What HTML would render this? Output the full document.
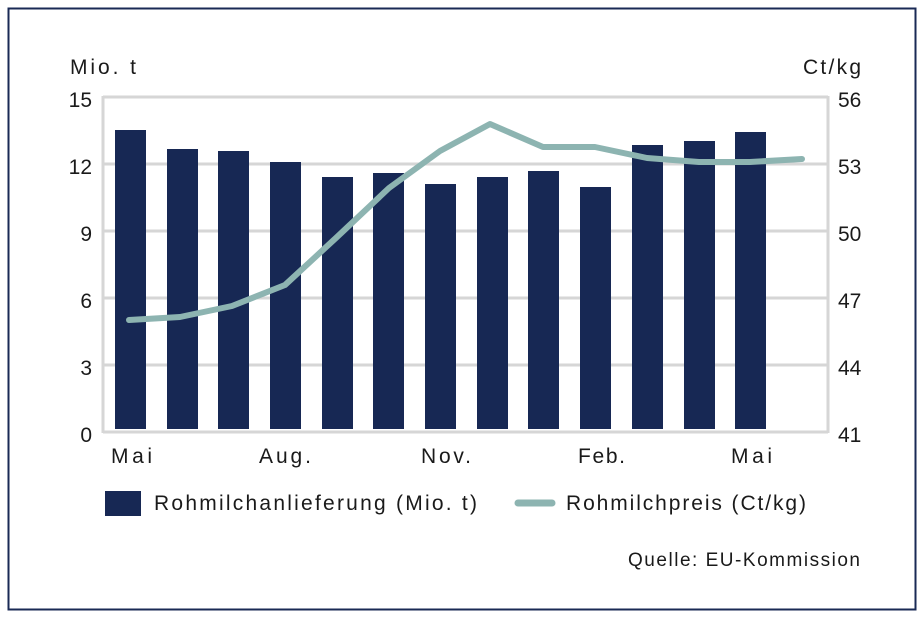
<!DOCTYPE html>
<html><head><meta charset="utf-8"><style>
body{margin:0;background:#fff}
svg text{font-family:"Liberation Sans",sans-serif;fill:#1a1a1a}
</style></head><body>
<svg width="924" height="618" viewBox="0 0 924 618" xmlns="http://www.w3.org/2000/svg">
<rect x="0" y="0" width="924" height="618" fill="#fff"/>
<rect x="8.5" y="8.5" width="907" height="601" fill="none" stroke="#1a2a55" stroke-width="2"/>
<g stroke="#d6d6d6" stroke-width="3">
<line x1="103" y1="97" x2="828" y2="97"/>
<line x1="103" y1="164" x2="828" y2="164"/>
<line x1="103" y1="231" x2="828" y2="231"/>
<line x1="103" y1="298" x2="828" y2="298"/>
<line x1="103" y1="365" x2="828" y2="365"/>
<line x1="103" y1="432" x2="828" y2="432"/>
<line x1="103" y1="96" x2="103" y2="433"/>
<line x1="828" y1="96" x2="828" y2="433"/>
</g>
<g fill="#172854">
<rect x="115" y="130" width="31" height="299"/>
<rect x="167" y="149" width="31" height="280"/>
<rect x="218" y="151" width="31" height="278"/>
<rect x="270" y="162" width="31" height="267"/>
<rect x="322" y="177" width="31" height="252"/>
<rect x="373" y="173" width="31" height="256"/>
<rect x="425" y="184" width="31" height="245"/>
<rect x="477" y="177" width="31" height="252"/>
<rect x="528" y="171" width="31" height="258"/>
<rect x="580" y="187" width="31" height="242"/>
<rect x="632" y="145" width="31" height="284"/>
<rect x="684" y="141" width="31" height="288"/>
<rect x="735" y="132" width="31" height="297"/>
</g>
<polyline fill="none" stroke="#8db4b1" stroke-width="6" stroke-linecap="round" stroke-linejoin="round"
points="129,320 180,317 232,306 285,285 337,237 389,188 440,151 490,124 543,147 595,147 647,158 699,162 750,162 802,159"/>
<g font-size="21">
<text x="70" y="74" textLength="66">Mio. t</text>
<text x="803" y="74" textLength="58">Ct/kg</text>
</g>
<g font-size="21" text-anchor="end">
<text x="92" y="107">15</text><text x="92" y="174">12</text><text x="92" y="241">9</text>
<text x="92" y="308">6</text><text x="92" y="375">3</text><text x="92" y="442">0</text>
</g>
<g font-size="21">
<text x="838" y="107">56</text><text x="838" y="174">53</text><text x="838" y="241">50</text>
<text x="838" y="308">47</text><text x="838" y="375">44</text><text x="838" y="442">41</text>
</g>
<g font-size="21">
<text x="111" y="463" textLength="41">Mai</text><text x="259" y="463" textLength="52">Aug.</text><text x="421" y="463" textLength="50">Nov.</text>
<text x="578" y="463" textLength="47">Feb.</text><text x="731" y="463" textLength="41">Mai</text>
</g>
<rect x="105" y="491" width="36" height="25" fill="#172854"/>
<text x="154" y="510" font-size="21" textLength="323">Rohmilchanlieferung (Mio. t)</text>
<line x1="518" y1="503" x2="552" y2="503" stroke="#8db4b1" stroke-width="7" stroke-linecap="round"/>
<text x="566" y="510" font-size="21" textLength="240">Rohmilchpreis (Ct/kg)</text>
<text x="628" y="566" font-size="19" textLength="232">Quelle: EU-Kommission</text>
</svg>
</body></html>
